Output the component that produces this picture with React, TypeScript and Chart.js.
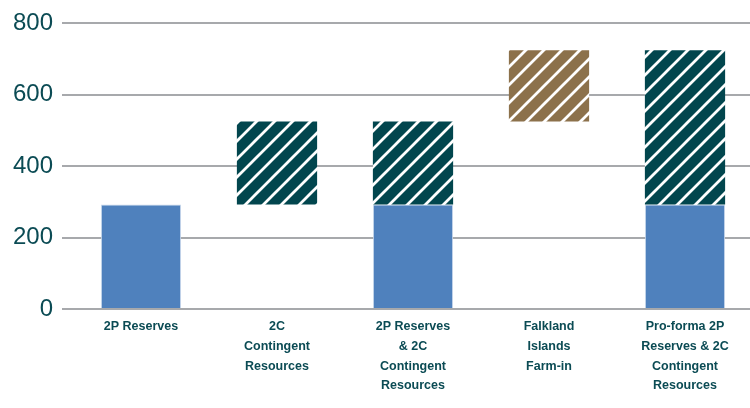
import React, { useEffect, useRef } from "react";
import { Chart, registerables } from "chart.js";

Chart.register(...registerables);

const categories: (string | string[])[] = [
  "2P Reserves",
  ["2C", "Contingent", "Resources"],
  ["2P Reserves", "& 2C", "Contingent", "Resources"],
  ["Falkland", "Islands", "Farm-in"],
  ["Pro-forma 2P", "Reserves & 2C", "Contingent", "Resources"],
];
const reserves2P: (number | null)[] = [293, null, 293, null, 293];
const contingent2C: ([number, number] | null)[] = [null, [293, 525], [293, 525], null, [293, 725]];
const falklandFarmIn: ([number, number] | null)[] = [null, null, null, [525, 725], null];
const yTicks = [0, 200, 400, 600, 800];

function makePattern(color: string): CanvasPattern | string {
  const s = 18;
  const c = document.createElement("canvas");
  c.width = s;
  c.height = s;
  const ctx = c.getContext("2d");
  if (!ctx) return color;
  ctx.fillStyle = color;
  ctx.fillRect(0, 0, s, s);
  ctx.strokeStyle = "#ffffff";
  ctx.lineWidth = 2.8;
  ctx.beginPath();
  ctx.moveTo(0, s);
  ctx.lineTo(s, 0);
  ctx.moveTo(-s / 2, s / 2);
  ctx.lineTo(s / 2, -s / 2);
  ctx.moveTo(s / 2, s + s / 2);
  ctx.lineTo(s + s / 2, s / 2);
  ctx.stroke();
  const p = ctx.createPattern(c, "repeat");
  return p || color;
}

export default function App() {
  const ref = useRef<HTMLCanvasElement>(null);
  useEffect(() => {
    if (!ref.current) return;
    const textColor = "#0b4b54";
    const chart = new Chart(ref.current, {
      type: "bar",
      data: {
        labels: categories as any,
        datasets: [
          {
            label: "2P Reserves",
            data: reserves2P as any,
            backgroundColor: "#4f81bd",
            borderColor: "#c9d8ec",
            borderWidth: 1,
            grouped: false,
            order: 2,
          } as any,
          {
            label: "2C Contingent Resources",
            data: contingent2C as any,
            backgroundColor: makePattern("#02464e"),
            borderWidth: 0,
            grouped: false,
            order: 1,
          } as any,
          {
            label: "Falkland Islands Farm-in",
            data: falklandFarmIn as any,
            backgroundColor: makePattern("#8c714b"),
            borderWidth: 0,
            grouped: false,
            order: 1,
          } as any,
        ],
      },
      options: {
        animation: false,
        responsive: false,
        maintainAspectRatio: false,
        datasets: { bar: { barPercentage: 0.59, categoryPercentage: 1 } },
        layout: { padding: { top: 20, left: 0, right: 7, bottom: 0 } },
        plugins: { legend: { display: false }, tooltip: { enabled: false } },
        scales: {
          x: {
            grid: { display: false, drawTicks: false },
            border: { display: false },
            ticks: {
              color: textColor,
              padding: 8,
              maxRotation: 0,
              autoSkip: false,
              font: {
                family: "'Liberation Sans', Arial, sans-serif",
                size: 12.5,
                weight: "bold",
                lineHeight: 1.576,
              },
            },
            afterFit: (scale: any) => {
              scale.height = 99;
            },
          },
          y: {
            min: 0,
            max: 800,
            afterBuildTicks: (scale: any) => {
              scale.ticks = yTicks.map((v) => ({ value: v }));
            },
            grid: { color: "#a7a9ac", lineWidth: 2, tickLength: 11, drawTicks: true, tickColor: "#a7a9ac" },
            border: { display: false },
            ticks: {
              color: textColor,
              padding: 9,
              font: { family: "'Liberation Sans', Arial, sans-serif", size: 24 },
            },
            afterFit: (scale: any) => {
              scale.width = 73;
            },
          },
        },
      } as any,
    });
    return () => chart.destroy();
  }, []);
  return (
    <div style={{ position: "fixed", left: 0, top: 0, width: 750, height: 408, overflow: "hidden", background: "#fff" }}>
      <canvas ref={ref} width={760} height={408} style={{ width: 760, height: 408, display: "block" }} />
    </div>
  );
}
